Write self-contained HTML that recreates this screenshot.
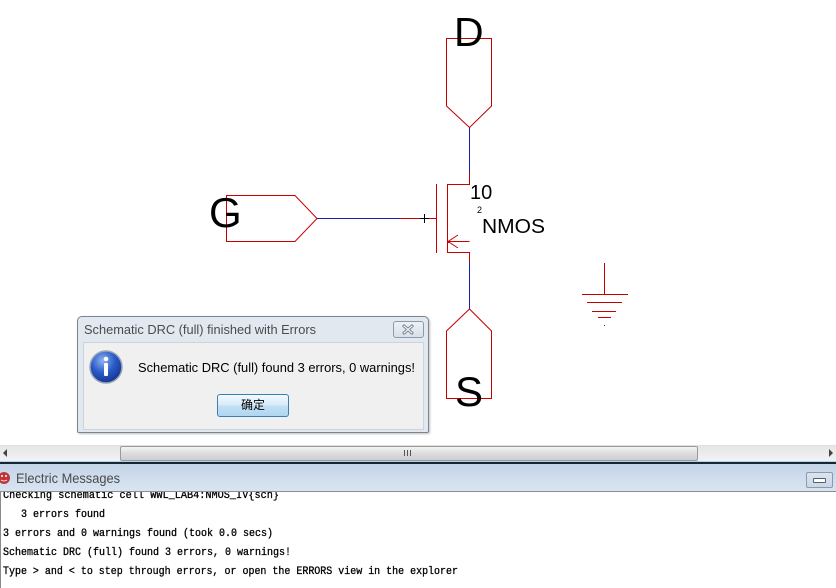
<!DOCTYPE html>
<html><head><meta charset="utf-8">
<style>
html,body{margin:0;padding:0;}
body{width:836px;height:588px;position:relative;overflow:hidden;background:#fff;font-family:"Liberation Sans","Noto Sans CJK SC",sans-serif;}
.abs{position:absolute;}
</style></head>
<body>
<svg class="abs" style="left:0;top:0" width="836" height="445" viewBox="0 0 836 445">
  <rect width="836" height="445" fill="#fff"/>
  <g fill="none" stroke="#c80000" stroke-width="1" shape-rendering="crispEdges">
    <path d="M446.5,38.5 H491.5 V106 L469.5,127.5 L446.5,106 Z" shape-rendering="auto"/>
    <path d="M469.5,309 L446.5,331 V398.5 H491.5 V331 Z" shape-rendering="auto"/>
    <path d="M226.5,195.5 H295 L317,218.5 L295,241.5 H226.5 Z" shape-rendering="auto"/>
    <line x1="400" y1="218.5" x2="436" y2="218.5"/>
    <line x1="436.5" y1="184" x2="436.5" y2="253"/>
    <line x1="447.5" y1="184" x2="447.5" y2="253"/>
    <polyline points="447.5,184.5 469.5,184.5 469.5,173"/>
    <polyline points="447.5,252.5 469.5,252.5 469.5,262"/>
    <line x1="447.5" y1="241.5" x2="469.5" y2="241.5"/>
    <path d="M458,235 L448,241.5 L458,248" shape-rendering="auto"/>
    <line x1="604.5" y1="263" x2="604.5" y2="294"/>
    <line x1="582" y1="294.5" x2="628" y2="294.5"/>
    <line x1="587" y1="302.5" x2="622" y2="302.5"/>
    <line x1="592" y1="311.5" x2="616" y2="311.5"/>
    <line x1="598" y1="317.5" x2="611" y2="317.5"/>
  </g>
  <rect x="447" y="241" width="2" height="2" fill="#c80000"/>
  <rect x="604" y="325" width="1" height="1" fill="#c80000"/>
  <g stroke="#1c1cb0" stroke-width="1" shape-rendering="crispEdges">
    <line x1="469.5" y1="127" x2="469.5" y2="173"/>
    <line x1="469.5" y1="262" x2="469.5" y2="309"/>
    <line x1="317" y1="218.5" x2="400" y2="218.5"/>
  </g>
  <g stroke="#000" stroke-width="1" shape-rendering="crispEdges">
    <line x1="420" y1="218.5" x2="429" y2="218.5"/>
    <line x1="424.5" y1="214" x2="424.5" y2="223"/>
  </g>
  <g font-family="Liberation Sans, sans-serif" fill="#000">
    <text x="454" y="46" font-size="41">D</text>
    <text x="209" y="227" font-size="42">G</text>
    <text x="455" y="406" font-size="42">S</text>
    <text x="470" y="199" font-size="20">10</text>
    <text x="477" y="213" font-size="9">2</text>
    <text x="482" y="233" font-size="20" textLength="63" lengthAdjust="spacingAndGlyphs">NMOS</text>
  </g>
</svg>

<!-- Dialog -->
<div class="abs" style="left:77px;top:316px;width:350px;height:115px;border:1px solid #7a8592;border-radius:5px 5px 2px 2px;background:#e2e8ef;box-shadow:1px 1px 2px rgba(0,0,0,0.25);"></div>
<div class="abs" style="left:83px;top:342px;width:339px;height:86px;background:#f0f0f0;border:1px solid #cdd3da;"></div>
<svg class="abs" style="left:77px;top:316px" width="352" height="30">
  <text x="7" y="18" font-family="Liberation Sans, sans-serif" font-size="13" fill="#4b4b4b" textLength="232" lengthAdjust="spacingAndGlyphs">Schematic DRC (full) finished with Errors</text>
</svg>
<div class="abs" style="left:393px;top:321px;width:29px;height:15px;border:1px solid #8d9aaa;border-radius:3px;background:linear-gradient(#eef2f6,#d8e0e9);"></div>
<svg class="abs" style="left:393px;top:321px" width="31" height="17">
  <path d="M11,5 L19,12 M19,5 L11,12" stroke="#6d7a8a" stroke-width="3" stroke-linecap="round"/>
  <path d="M11,5 L19,12 M19,5 L11,12" stroke="#f4f6f8" stroke-width="1.2" stroke-linecap="round"/>
</svg>
<svg class="abs" style="left:88px;top:349px" width="36" height="36">
  <defs>
    <radialGradient id="ig" cx="0.4" cy="0.3" r="0.75">
      <stop offset="0" stop-color="#8fb3f0"/>
      <stop offset="0.5" stop-color="#2a5bc8"/>
      <stop offset="1" stop-color="#14318a"/>
    </radialGradient>
  </defs>
  <circle cx="18" cy="18" r="16" fill="url(#ig)" stroke="#9aa6b8" stroke-width="1.5"/>
  <circle cx="18" cy="10" r="2.3" fill="#fff"/>
  <rect x="16" y="14" width="4" height="13" rx="1" fill="#fff"/>
</svg>
<svg class="abs" style="left:130px;top:355px" width="295" height="25">
  <text x="8" y="17" font-family="Liberation Sans, sans-serif" font-size="13" fill="#000" textLength="277" lengthAdjust="spacingAndGlyphs">Schematic DRC (full) found 3 errors, 0 warnings!</text>
</svg>
<div class="abs" style="left:217px;top:394px;width:70px;height:21px;border:1px solid #3c7fb1;border-radius:3px;background:linear-gradient(#f2f9fe,#d6ebf8 50%,#c2e0f5 51%,#b0d6f0);"></div>
<div class="abs" style="left:217px;top:394px;width:72px;height:23px;line-height:23px;text-align:center;font-size:12px;font-family:'Liberation Sans','Noto Sans CJK SC',sans-serif;color:#000;">确定</div>

<!-- scrollbar -->
<div class="abs" style="left:0;top:445px;width:836px;height:16px;background:linear-gradient(#e6e6e6,#f3f3f3);border-top:1px solid #e0e0e0;"></div>
<div class="abs" style="left:3px;top:449px;width:0;height:0;border-top:4px solid transparent;border-bottom:4px solid transparent;border-right:4px solid #444;"></div>
<div class="abs" style="left:829px;top:449px;width:0;height:0;border-top:4px solid transparent;border-bottom:4px solid transparent;border-left:4px solid #444;"></div>
<div class="abs" style="left:120px;top:446px;width:576px;height:13px;border:1px solid #9a9a9a;border-radius:2px;background:linear-gradient(#f4f4f4,#dcdcdc 50%,#cfcfcf);"></div>
<svg class="abs" style="left:402px;top:448px" width="12" height="10">
  <g stroke="#555" stroke-width="1"><line x1="2.5" y1="2" x2="2.5" y2="8"/><line x1="5.5" y1="2" x2="5.5" y2="8"/><line x1="8.5" y1="2" x2="8.5" y2="8"/></g>
</svg>
<div class="abs" style="left:0;top:461px;width:836px;height:1px;background:#9fdcef;"></div>
<div class="abs" style="left:0;top:462px;width:836px;height:2px;background:#1b2431;"></div>

<!-- Messages title bar -->
<div class="abs" style="left:0;top:464px;width:836px;height:27px;background:linear-gradient(#c4d5e8,#d9e4f0);border-bottom:1px solid #8b8f94;"></div>
<svg class="abs" style="left:0;top:470px" width="14" height="16">
  <circle cx="4" cy="8" r="6" fill="#c0343a"/>
  <circle cx="2" cy="6" r="1" fill="#fff"/><circle cx="6" cy="6" r="1" fill="#fff"/>
  <path d="M1,10 Q4,12 7,10" stroke="#fff" stroke-width="0.8" fill="none"/>
</svg>
<svg class="abs" style="left:14px;top:466px" width="140" height="24">
  <text x="2" y="17" font-family="Liberation Sans, sans-serif" font-size="14" fill="#4a4a4a" textLength="104" lengthAdjust="spacingAndGlyphs">Electric Messages</text>
</svg>
<div class="abs" style="left:806px;top:472px;width:25px;height:14px;border:1px solid #8d9aaa;border-radius:2px;background:linear-gradient(#dbe5ef,#c9d7e6);"></div>
<div class="abs" style="left:813px;top:478px;width:11px;height:3px;border:1px solid #55606e;border-radius:1px;background:#fff;"></div>

<!-- Messages text -->
<div class="abs" style="left:0;top:492px;width:836px;height:96px;background:#fff;border-left:1px solid #8a8a8a;box-sizing:border-box;overflow:hidden;">
<svg width="836" height="96" style="position:absolute;left:-1px;top:0">
  <g font-family="Liberation Mono, monospace" font-size="11" fill="#000" stroke="#000" stroke-width="0.3">
    <text x="3" y="6" textLength="276" lengthAdjust="spacingAndGlyphs">Checking schematic cell  WWL_LAB4:NMOS_IV{sch}</text>
    <text x="21" y="25" textLength="84" lengthAdjust="spacingAndGlyphs">3 errors found</text>
    <text x="3" y="44" textLength="270" lengthAdjust="spacingAndGlyphs">3 errors and 0 warnings found (took 0.0 secs)</text>
    <text x="3" y="63" textLength="288" lengthAdjust="spacingAndGlyphs">Schematic DRC (full) found 3 errors, 0 warnings!</text>
    <text x="3" y="82" textLength="455" lengthAdjust="spacingAndGlyphs">Type &gt; and &lt; to step through errors, or open the ERRORS view in the explorer</text>
  </g>
</svg>
</div>
</body></html>
